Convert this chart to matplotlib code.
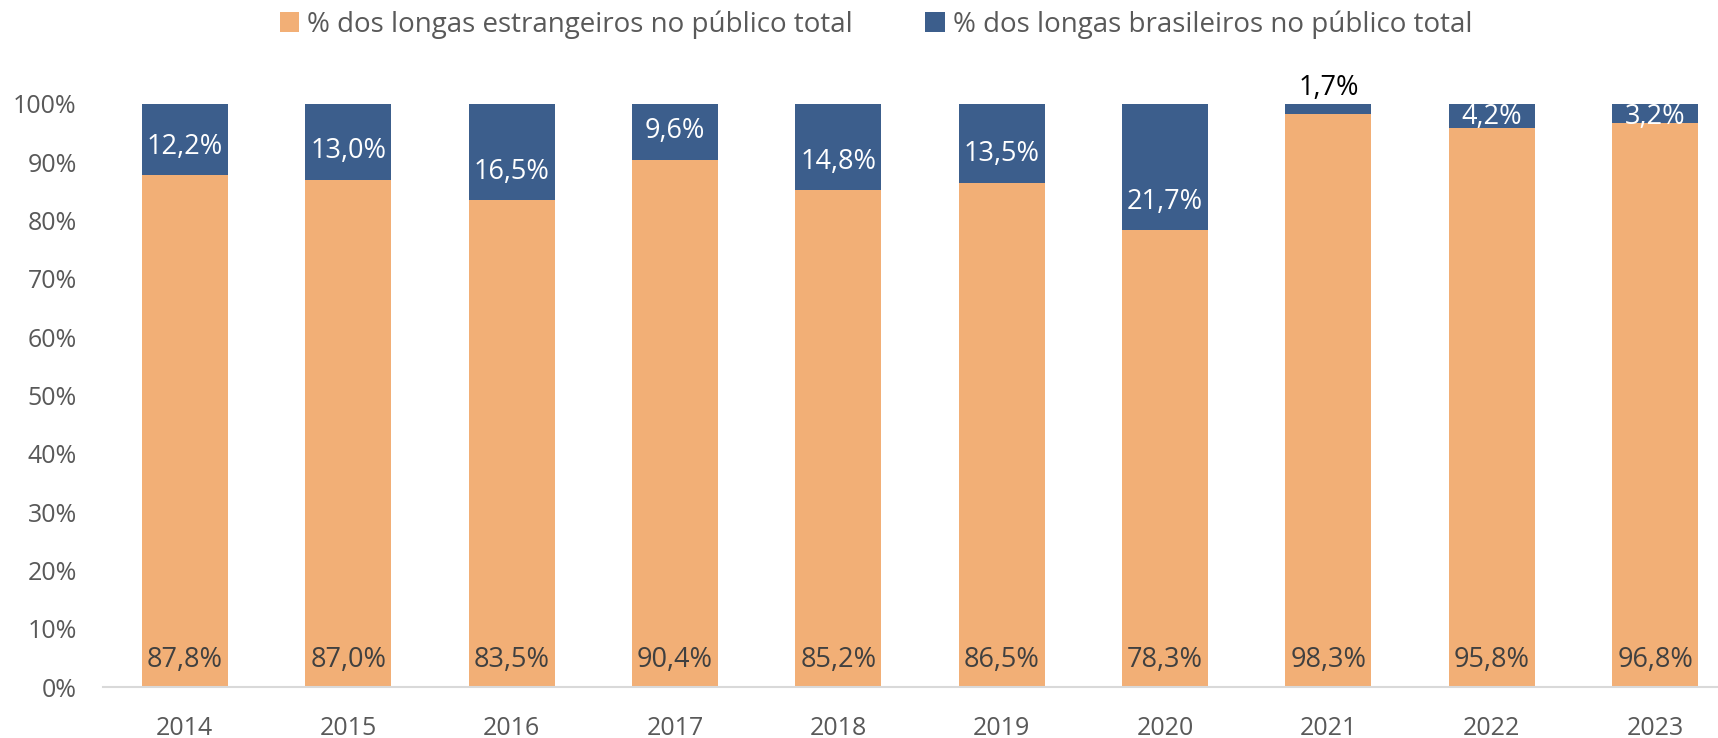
import matplotlib.pyplot as plt
import numpy as np

plt.rcParams['font.family'] = ['Open Sans', 'DejaVu Sans']

# dados
anos = ['2014', '2015', '2016', '2017', '2018', '2019', '2020', '2021', '2022', '2023']
estrangeiros = [87.8, 87.0, 83.5, 90.4, 85.2, 86.5, 78.3, 98.3, 95.8, 96.8]
brasileiros = [12.2, 13.0, 16.5, 9.6, 14.8, 13.5, 21.7, 1.7, 4.2, 3.2]

cor_estr = '#F2AF76'
cor_bras = '#3C5E8C'
cinza = '#595959'

fig = plt.figure(figsize=(17.18, 7.38), dpi=100)
ax = fig.add_axes([0.060, 0.0691, 0.951, 0.790])

x = np.arange(len(anos))
w = 0.526
ax.bar(x, estrangeiros, w, color=cor_estr, label='% dos longas estrangeiros no público total')
ax.bar(x, brasileiros, w, bottom=estrangeiros, color=cor_bras,
       label='% dos longas brasileiros no público total')

def fmt(v):
    return f'{v:.1f}%'.replace('.', ',')

# rótulos: estrangeiros na base, brasileiros perto da base do segmento
for i in range(len(anos)):
    ax.text(x[i], 4.6, fmt(estrangeiros[i]), ha='center', va='center',
            fontsize=19.5, color='#404040')
    if brasileiros[i] < 2:
        ax.text(x[i], 100.4, fmt(brasileiros[i]), ha='center', va='bottom',
                fontsize=19.5, color='black')
    else:
        y = min(estrangeiros[i] + 4.9, 97.7)
        ax.text(x[i], y, fmt(brasileiros[i]), ha='center', va='center',
                fontsize=19.5, color='white')

ax.set_xlim(-0.5, len(anos) - 0.5)
ax.set_ylim(0, 100)
ax.set_yticks(np.arange(0, 101, 10))
ax.set_yticklabels([f'{v}%' for v in range(0, 101, 10)])
ax.set_xticks(x)
ax.set_xticklabels(anos)
ax.tick_params(axis='y', length=0, pad=19, labelsize=18, labelcolor=cinza)
ax.tick_params(axis='x', length=0, pad=21, labelsize=18, labelcolor=cinza)

for s in ['top', 'right', 'left']:
    ax.spines[s].set_visible(False)
ax.spines['bottom'].set_color('#D9D9D9')
ax.spines['bottom'].set_linewidth(1.5)

fig.legend(loc='center', bbox_to_anchor=(0.51, 0.967), ncol=2, frameon=False,
           fontsize=20, handlelength=0.7, handleheight=0.7, handletextpad=0.3,
           columnspacing=2.6, labelcolor=cinza)

plt.savefig('out.png', dpi=100)
